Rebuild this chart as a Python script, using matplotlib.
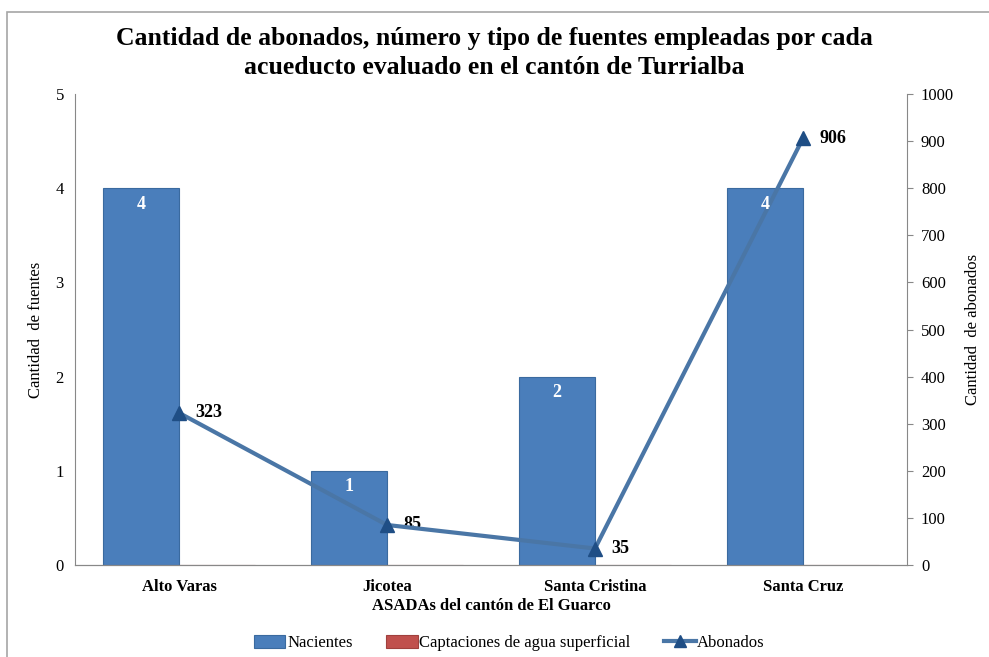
import matplotlib.pyplot as plt
import matplotlib.patches as mpatches
import numpy as np

plt.rcParams['font.family'] = ['Liberation Serif', 'DejaVu Serif']

asadas = ["Alto Varas", "Jicotea", "Santa Cristina", "Santa Cruz"]
nacientes = [4, 1, 2, 4]
captaciones = [0, 0, 0, 0]
abonados = [323, 85, 35, 906]

fig = plt.figure(figsize=(9.89, 6.57), dpi=100)
# outer chart frame
fig.patches.append(mpatches.Rectangle((7 / 989, -0.1), 1.2, 1 - 12 / 657 + 0.1,
                                      transform=fig.transFigure, fill=False,
                                      edgecolor='#a6a6a6', linewidth=1.2))

ax1 = fig.add_axes([75 / 989, 1 - 565 / 657, (907 - 75) / 989, (565 - 94) / 657])
ax2 = ax1.twinx()

x = np.arange(len(asadas))
w = 0.365
b1 = ax1.bar(x - w / 2, nacientes, w, color='#4a7ebb', edgecolor='#3a6a9f',
             linewidth=0.8, label='Nacientes')
b2 = ax1.bar(x + w / 2, captaciones, w, color='#c0504d', edgecolor='#a0403d',
             linewidth=0.8, label='Captaciones de agua superficial')
# bar labels drawn on top of the line
for xi, v in zip(x, nacientes):
    ax2.text(xi - w / 2, v - 0.17, str(v), ha='center', va='center', color='white',
             fontsize=13, fontweight='bold', transform=ax1.transData, zorder=10)

ax1.set_xlim(-0.5, len(asadas) - 0.5)
ax1.set_ylim(0, 5)
ax1.set_yticks(range(6))
ax1.set_xticks(x)
ax1.set_xticklabels(asadas, fontsize=12, fontweight='bold')
ax1.tick_params(axis='both', length=0, labelsize=12, pad=8)
ax1.tick_params(axis='x', pad=10)
ax1.set_ylabel('Cantidad  de fuentes', fontsize=12, labelpad=8)
ax1.set_xlabel('ASADAs del cantón de El Guarco', fontsize=12, fontweight='bold', labelpad=2)

ln, = ax2.plot(x, abonados, color='#4a76a6', linewidth=3, marker='^',
               markersize=10, markerfacecolor='#1f4e85', markeredgecolor='#1f4e85',
               label='Abonados', zorder=5)
for xi, v in zip(x, abonados):
    ax2.text(xi + 0.08, v, str(v), ha='left', va='center', fontsize=13,
             fontweight='bold')
ax2.set_ylim(0, 1000)
ax2.set_yticks(range(0, 1001, 100))
ax2.tick_params(axis='y', length=4, color='#888888', labelsize=12, pad=6)
ax2.set_ylabel('Cantidad  de abonados', fontsize=12, labelpad=8)

for a in (ax1, ax2):
    a.spines['top'].set_visible(False)
    for s in ('left', 'right', 'bottom'):
        a.spines[s].set_color('#888888')
ax2.spines['left'].set_visible(False)
ax1.spines['right'].set_visible(False)

fig.text(0.5, 1 - 53 / 657,
         'Cantidad de abonados, número y tipo de fuentes empleadas por cada\n'
         'acueducto evaluado en el cantón de Turrialba',
         ha='center', va='center', fontsize=18.5, fontweight='bold', linespacing=1.3)

fig.legend(handles=[b1, b2, ln], loc='center', bbox_to_anchor=(0.515, 1 - 643 / 657),
           ncol=3, frameon=False, fontsize=12, handlelength=1.9, handleheight=0.8,
           columnspacing=2.0, handletextpad=0.1, markerscale=0.8)

fig.savefig('out.png', dpi=100)
